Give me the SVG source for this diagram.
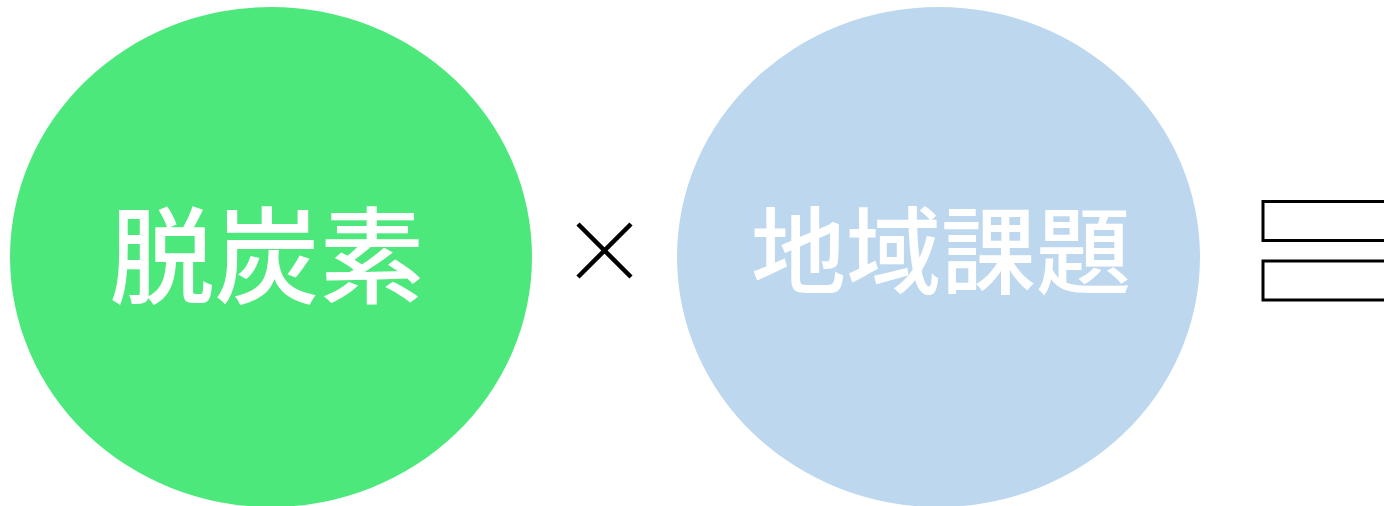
<svg xmlns="http://www.w3.org/2000/svg" width="1384" height="506" viewBox="0 0 1384 506">
<style>
.lbl{font-family:"Noto Sans CJK JP","Noto Sans CJK SC",sans-serif;font-weight:500;fill:#ffffff;text-anchor:middle;dominant-baseline:central}
.eq{fill:#ffffff;stroke:#000000;stroke-width:3}
</style>
<rect width="1384" height="506" fill="#ffffff"/>
<g id="node-decarbon">
<ellipse cx="271" cy="257" rx="261" ry="250" fill="#4DE87C"/>
<text class="lbl" x="267" y="249" font-size="105">脱炭素</text>
</g>
<g id="node-times">
<path d="M578 224 L631 277 M631 224 L578 277" stroke="#000000" stroke-width="4.5" fill="none"/>
</g>
<g id="node-regional">
<ellipse cx="938.5" cy="257" rx="261.5" ry="250" fill="#BDD7EE"/>
<text class="lbl" x="941" y="245" font-size="95">地域課題</text>
</g>
<g id="node-equals">
<rect class="eq" x="1263" y="201.5" width="130" height="39"/>
<rect class="eq" x="1263" y="261" width="130" height="39"/>
</g>
<g id="connectors"></g>
</svg>
